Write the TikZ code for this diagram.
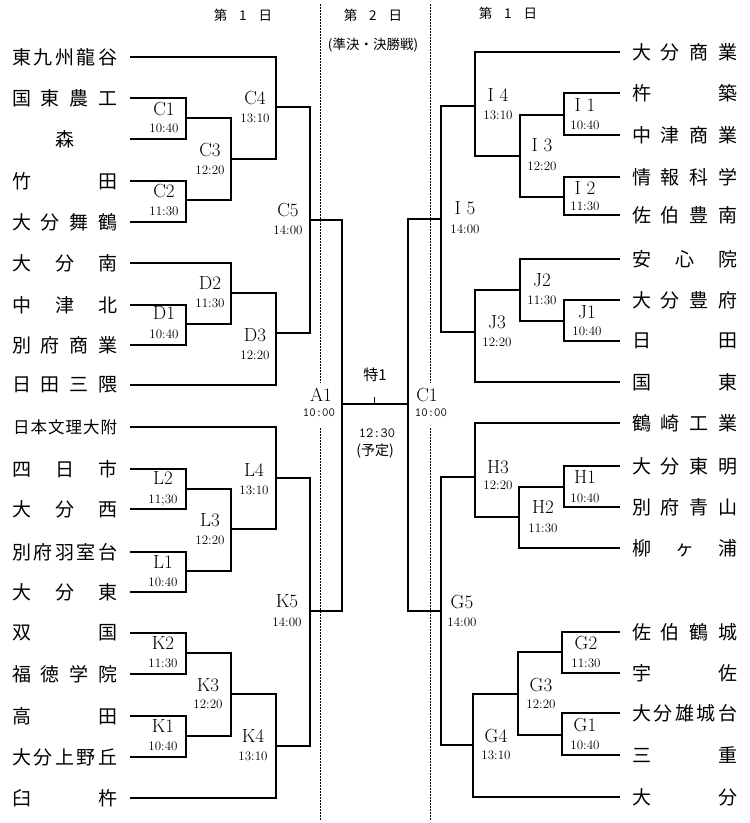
\documentclass[tikz,border=0pt]{standalone}
\usepackage{fontspec}
\newfontfamily\jp{Noto Sans CJK JP}
\newcommand\nmbox[1]{\makebox[105pt]{#1}}
\begin{document}
\begin{tikzpicture}[x=1pt,y=-1pt,
  bline/.style={line width=1.4pt,line join=miter},
  dline/.style={line width=1pt,dash pattern=on 2pt off 1pt},
  lname/.style={anchor=west,inner sep=0pt,font=\jp\fontsize{19}{19}\selectfont},
  sname/.style={anchor=west,inner sep=0pt,font=\jp\fontsize{16.5}{16.5}\selectfont},
  mlab/.style={inner sep=0pt,font=\fontsize{19}{19}\selectfont},
  tlab/.style={inner sep=0pt,font=\fontsize{13}{13}\selectfont},
  mono/.style={inner sep=0pt,font=\ttfamily\fontsize{12.5}{12.5}\selectfont},
  head/.style={inner sep=0pt,font=\jp\fontsize{13.5}{13.5}\selectfont}]
\useasboundingbox (0,0) rectangle (750,823);
\fill[white] (0,0) rectangle (750,823);

% headers
\node[head] (h1) at (243,15) {第\hspace{12pt}1\hspace{12pt}日};
\node[head] (h2) at (373,15) {第\hspace{12pt}2\hspace{12pt}日};
\node[head] (h3) at (373,45) {(準決・決勝戦)};
\node[head] (h4) at (508,13) {第\hspace{12pt}1\hspace{12pt}日};

% dashed separators
\draw[dline] (320,4) -- (320,383) (320,428) -- (320,820);
\draw[dline] (430,4) -- (430,383) (430,428) -- (430,820);

% left teams
\foreach \i/\y/\t in {0/57/{東\hfill 九\hfill 州\hfill 龍\hfill 谷},
  1/98/{国\hfill 東\hfill 農\hfill 工},
  2/139/{\hfill 森\hfill},
  3/181/{竹\hfill 田},
  4/222/{大\hfill 分\hfill 舞\hfill 鶴},
  5/263/{大\hfill 分\hfill 南},
  6/305/{中\hfill 津\hfill 北},
  7/345/{別\hfill 府\hfill 商\hfill 業},
  8/385/{日\hfill 田\hfill 三\hfill 隈},
  10/469/{四\hfill 日\hfill 市},
  11/509/{大\hfill 分\hfill 西},
  12/552/{別\hfill 府\hfill 羽\hfill 室\hfill 台},
  13/592/{大\hfill 分\hfill 東},
  14/633/{双\hfill 国},
  15/674/{福\hfill 徳\hfill 学\hfill 院},
  16/716/{高\hfill 田},
  17/757/{大\hfill 分\hfill 上\hfill 野\hfill 丘},
  18/798/{臼\hfill 杵}}{
  \node[lname] (nL\i) at (12,\y) {\nmbox{\t}};
  \coordinate (tL\i) at (130,\y);
}
\node[sname] (nL9) at (13,427) {\makebox[104pt]{日\hfill 本\hfill 文\hfill 理\hfill 大\hfill 附}};
\coordinate (tL9) at (130,427);

% right teams
\foreach \i/\y/\t in {0/52/{大\hfill 分\hfill 商\hfill 業},
  1/93/{杵\hfill 築},
  2/135/{中\hfill 津\hfill 商\hfill 業},
  3/177/{情\hfill 報\hfill 科\hfill 学},
  4/215/{佐\hfill 伯\hfill 豊\hfill 南},
  5/259/{安\hfill 心\hfill 院},
  6/300/{大\hfill 分\hfill 豊\hfill 府},
  7/341/{日\hfill 田},
  8/382/{国\hfill 東},
  9/423/{鶴\hfill 崎\hfill 工\hfill 業},
  10/466/{大\hfill 分\hfill 東\hfill 明},
  11/507/{別\hfill 府\hfill 青\hfill 山},
  12/548/{柳\hfill ヶ\hfill 浦},
  14/632/{佐\hfill 伯\hfill 鶴\hfill 城},
  15/673/{宇\hfill 佐},
  16/713/{大\hfill 分\hfill 雄\hfill 城\hfill 台},
  17/755/{三\hfill 重},
  18/797/{大\hfill 分}}{
  \node[lname] (nR\i) at (632,\y) {\nmbox{\t}};
  \coordinate (tR\i) at (620,\y);
}

% junctions, left
\coordinate (C1) at (186,118);
\coordinate (C2) at (186,200);
\coordinate (C3) at (231,159);
\coordinate (C4) at (276,107);
\coordinate (D1) at (186,324);
\coordinate (D2) at (231,293);
\coordinate (D3) at (276,333);
\coordinate (C5) at (310,220);
\coordinate (L2) at (186,489);
\coordinate (L1) at (186,571);
\coordinate (L3) at (231,529);
\coordinate (L4) at (276,478);
\coordinate (K2) at (186,653);
\coordinate (K1) at (186,736);
\coordinate (K3) at (231,694);
\coordinate (K4) at (276,746);
\coordinate (K5) at (310,611);
\coordinate (A1) at (342,404);
% junctions, right
\coordinate (I1) at (564,115);
\coordinate (I2) at (564,197);
\coordinate (I3) at (520,156);
\coordinate (I4) at (475,106);
\coordinate (J1) at (564,321);
\coordinate (J2) at (520,290);
\coordinate (J3) at (475,332);
\coordinate (I5) at (441,219);
\coordinate (H1) at (564,487);
\coordinate (H2) at (519,517);
\coordinate (H3) at (475,477);
\coordinate (G2) at (562,652);
\coordinate (G1) at (562,735);
\coordinate (G3) at (518,694);
\coordinate (G4) at (473,745);
\coordinate (G5) at (441,611);
\coordinate (CR) at (408,404);
\coordinate (FN) at (374,404);

% bracket lines, left
\draw[bline] (tL1) -| (C1) |- (tL2);
\draw[bline] (tL3) -| (C2) |- (tL4);
\draw[bline] (C1) -| (C3) |- (C2);
\draw[bline] (tL0) -| (C4) |- (C3);
\draw[bline] (tL6) -| (D1) |- (tL7);
\draw[bline] (tL5) -| (D2) |- (D1);
\draw[bline] (D2) -| (D3) |- (tL8);
\draw[bline] (C4) -| (C5) |- (D3);
\draw[bline] (tL10) -| (L2) |- (tL11);
\draw[bline] (tL12) -| (L1) |- (tL13);
\draw[bline] (L2) -| (L3) |- (L1);
\draw[bline] (tL9) -| (L4) |- (L3);
\draw[bline] (tL14) -| (K2) |- (tL15);
\draw[bline] (tL16) -| (K1) |- (tL17);
\draw[bline] (K2) -| (K3) |- (K1);
\draw[bline] (K3) -| (K4) |- (tL18);
\draw[bline] (L4) -| (K5) |- (K4);
\draw[bline] (C5) -| (A1) |- (K5);
% bracket lines, right
\draw[bline] (tR1) -| (I1) |- (tR2);
\draw[bline] (tR3) -| (I2) |- (tR4);
\draw[bline] (I1) -| (I3) |- (I2);
\draw[bline] (tR0) -| (I4) |- (I3);
\draw[bline] (tR6) -| (J1) |- (tR7);
\draw[bline] (tR5) -| (J2) |- (J1);
\draw[bline] (J2) -| (J3) |- (tR8);
\draw[bline] (I4) -| (I5) |- (J3);
\draw[bline] (tR10) -| (H1) |- (tR11);
\draw[bline] (H1) -| (H2) |- (tR12);
\draw[bline] (tR9) -| (H3) |- (H2);
\draw[bline] (tR14) -| (G2) |- (tR15);
\draw[bline] (tR16) -| (G1) |- (tR17);
\draw[bline] (G2) -| (G3) |- (G1);
\draw[bline] (G3) -| (G4) |- (tR18);
\draw[bline] (H3) -| (G5) |- (G4);
\draw[bline] (I5) -| (CR) |- (G5);
% final
\draw[bline] (A1) -- (CR);
\draw[line width=1pt] (FN) -- ++(0,-7);

% match labels, left
\foreach \n/\x/\ya/\yb/\tm in {C1/164/109/128/10:40, C2/164/191/211/11:30,
  C3/210/150/170/12:20, C4/255/98/118/13:10, C5/288/210/230/14:00,
  D1/164/313/334/10:40, D2/210/283/303/11:30, D3/255/335/355/12:20,
  L4/254/470/490/13:10, L2/163/478/500/11;30, L3/210/520/540/12:20,
  L1/163/562/582/10:40, K5/287/601/622/14:00, K2/163/643/663/11:30,
  K3/208/685/704/12:20, K1/163/726/746/10:40, K4/253/736/756/13:10}{
  \node[mlab] (m\n) at (\x,\ya) {\n};
  \node[tlab] (s\n) at (\x,\yb) {\tm};
}
% match labels, right
\foreach \n/\lab/\x/\ya/\yb/\tm in {I4/{I 4}/498/95/115/13:10, I1/{I 1}/585/105/125/10:40,
  I3/{I 3}/542/145/166/12:20, I2/{I 2}/585/188/206/11:30, I5/{I 5}/465/208/229/14:00,
  J2/J2/542/280/300/11:30, J1/J1/587/312/331/10:40, J3/J3/497/322/342/12:20,
  H3/H3/498/467/485/12:20, H1/H1/585/477/498/10:40, H2/H2/543/507/528/11:30,
  G5/G5/462/602/622/14:00, G2/G2/586/643/663/11:30, G3/G3/541/685/704/12:20,
  G1/G1/585/725/745/10:40, G4/G4/496/736/755/13:10}{
  \node[mlab] (m\n) at (\x,\ya) {\lab};
  \node[tlab] (s\n) at (\x,\yb) {\tm};
}
% centre labels
\node[mlab] (mA1) at (321,395) {A1};
\node[mono] (sA1) at (319,413) {10:00};
\node[mlab] (mCR) at (427,395) {C1};
\node[mono] (sCR) at (431,413) {10:00};
\node[inner sep=0pt,font=\jp\fontsize{15}{15}\selectfont] (mF) at (375,375) {特1};
\node[inner sep=0pt,font=\ttfamily\fontsize{14}{14}\selectfont] (sF) at (377,433) {12:30};
\node[inner sep=0pt,font=\jp\fontsize{14}{14}\selectfont] (pF) at (375,451) {(予定)};
\end{tikzpicture}
\end{document}
